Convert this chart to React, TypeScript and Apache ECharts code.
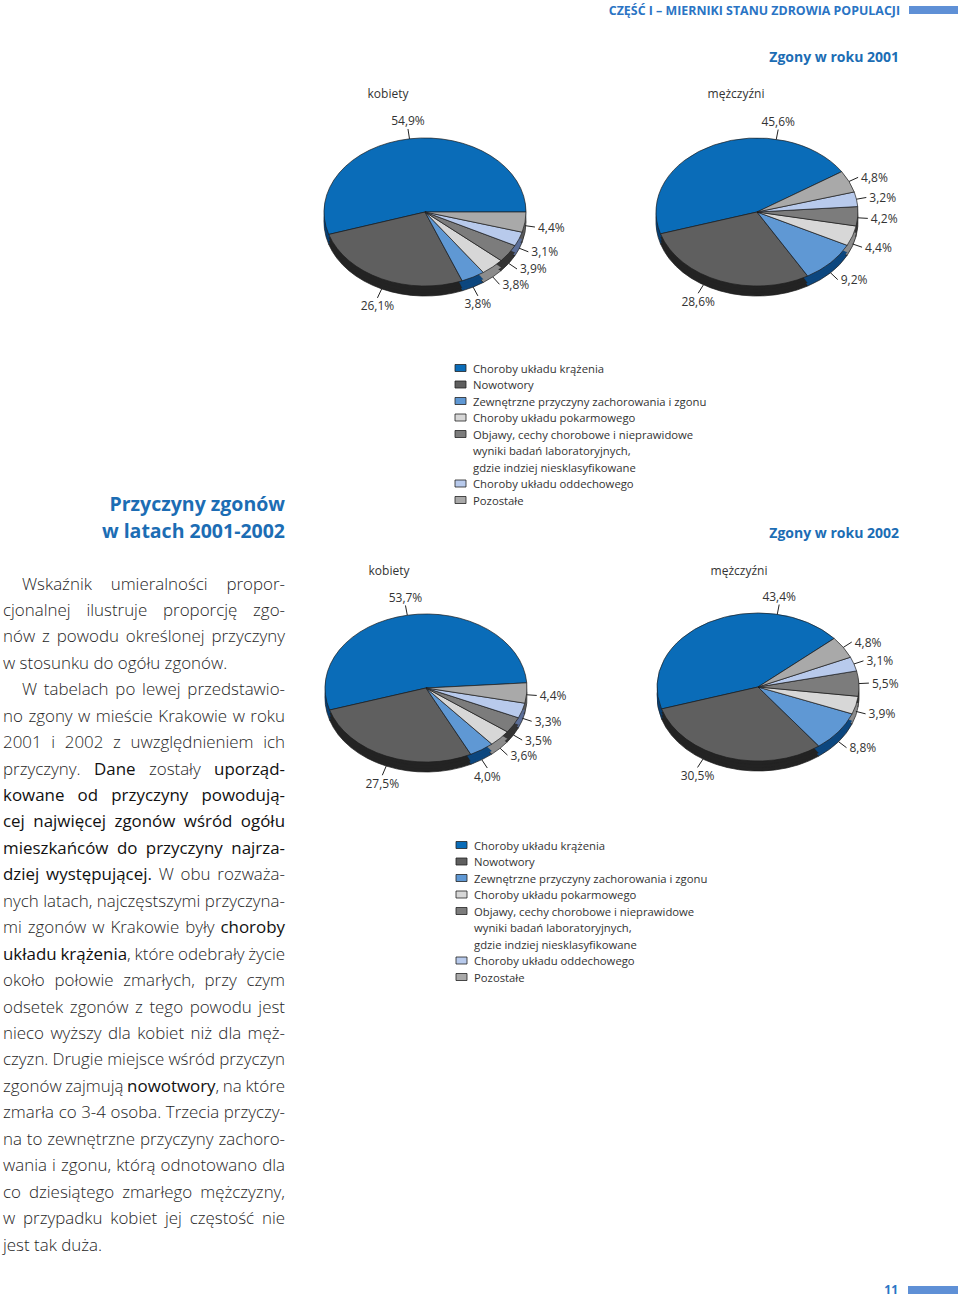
import React, { useEffect, useRef } from 'react';
import * as echarts from 'echarts';

// ---------- DATA ----------
const categories = [
  'Choroby układu krążenia',
  'Nowotwory',
  'Zewnętrzne przyczyny zachorowania i zgonu',
  'Choroby układu pokarmowego',
  'Objawy, cechy chorobowe i nieprawidowe\nwyniki badań laboratoryjnych,\ngdzie indziej niesklasyfikowane',
  'Choroby układu oddechowego',
  'Pozostałe',
];
const women2001 = [54.9, 26.1, 3.8, 3.8, 3.9, 3.1, 4.4];
const men2001 = [45.6, 28.6, 9.2, 4.4, 4.2, 3.2, 4.8];
const women2002 = [53.7, 27.5, 4.0, 3.6, 3.5, 3.3, 4.4];
const men2002 = [43.4, 30.5, 8.8, 3.9, 5.5, 3.1, 4.8];

const headerText = 'CZĘŚĆ I – MIERNIKI STANU ZDROWIA POPULACJI';
const title2001 = 'Zgony w roku 2001';
const title2002 = 'Zgony w roku 2002';
const womenLabel = 'kobiety';
const menLabel = 'mężczyźni';
const sideTitle = ['Przyczyny zgonów', 'w latach 2001-2002'];
const pageNumber = '11';

const bodyLines = [
  'Wskaźnik umieralności propor-',
  'cjonalnej ilustruje proporcję zgo-',
  'nów z powodu określonej przyczyny',
  'w stosunku do ogółu zgonów.',
  'W tabelach po lewej przedstawio-',
  'no zgony w mieście Krakowie w roku',
  '2001 i 2002 z uwzględnieniem ich',
  'przyczyny. *Dane* zostały *uporząd-*',
  '*kowane od przyczyny powodują-*',
  '*cej najwięcej zgonów wśród ogółu*',
  '*mieszkańców do przyczyny najrza-*',
  '*dziej występującej.* W obu rozważa-',
  'nych latach, najczęstszymi przyczyna-',
  'mi zgonów w Krakowie były *choroby*',
  '*układu krążenia*, które odebrały życie',
  'około połowie zmarłych, przy czym',
  'odsetek zgonów z tego powodu jest',
  'nieco wyższy dla kobiet niż dla męż-',
  'czyzn. Drugie miejsce wśród przyczyn',
  'zgonów zajmują *nowotwory*, na które',
  'zmarła co 3-4 osoba. Trzecia przyczy-',
  'na to zewnętrzne przyczyny zachoro-',
  'wania i zgonu, którą odnotowano dla',
  'co dziesiątego zmarłego mężczyzny,',
  'w przypadku kobiet jej częstość nie',
  'jest tak duża.',
];
const paragraphFirstLines = [0, 4];
const paragraphLastLines = [3, 25];

// ---------- STYLE ----------
const FONT = '"Open Sans", "Noto Sans", sans-serif';
const BLUE = '#1c6db4';
const colors = ['#0a6cb8', '#5f5f5f', '#5f98d4', '#d7d7d7', '#7c7c7c', '#b8caec', '#a9a9a9'];
const rimColors = ['#073f74', '#232323', '#0d477f', '#8c8c8c', '#343434', '#5c6f99', '#5a5a5a'];
const A = 101; // ellipse half width
const B = 74; // ellipse half height
const DEPTH = 10;

type PieCfg = { cx: number; cy: number; start: number; labelAngles?: Record<number, number> };

function pieSeries(values: number[], cfg: PieCfg) {
  const total = values.reduce((s, v) => s + v, 0);
  const starts: number[] = [];
  let acc = cfg.start;
  values.forEach((v) => {
    starts.push(acc);
    acc += (v / total) * 360;
  });
  const k = B / A;
  const rad = Math.PI / 180;
  return {
    type: 'custom',
    coordinateSystem: 'none',
    silent: true,
    data: values,
    renderItem: (params: any) => {
      const i = params.dataIndex;
      const v = values[i];
      const t1 = starts[i];
      const t2 = t1 + (v / total) * 360;
      const sa = -t2 * rad;
      const ea = -t1 * rad;
      const sector = (dy: number, fill: string, stroke: string | null, z2: number) => ({
        type: 'group',
        x: cfg.cx,
        y: cfg.cy + dy,
        scaleY: k,
        children: [
          {
            type: 'sector',
            z2,
            shape: { cx: 0, cy: 0, r: A, r0: 0, startAngle: sa, endAngle: ea, clockwise: true },
            style: {
              fill,
              stroke: stroke || fill,
              lineWidth: stroke ? 0.8 : 0.3,
              strokeNoScale: true,
            },
          },
        ],
      });
      const children: any[] = [
        sector(DEPTH, rimColors[i], '#1a1a1a', 1),
        sector(DEPTH * 0.66, rimColors[i], null, 2),
        sector(DEPTH * 0.33, rimColors[i], null, 2),
        sector(0, colors[i], '#1d1d1d', 5),
      ];
      // label
      const la = cfg.labelAngles && cfg.labelAngles[i] !== undefined ? cfg.labelAngles[i] : (t1 + t2) / 2;
      const c = Math.cos(la * rad);
      const s = Math.sin(la * rad);
      const rimAdd = DEPTH * Math.min(1, Math.max(0, -s * 2.5));
      const px = cfg.cx + A * c;
      const py = cfg.cy - B * s + rimAdd;
      const L = 10;
      const ex = px + c * L;
      const ey = py - s * L;
      let align = 'center';
      let valign = 'middle';
      let tx = ex;
      let ty = ey;
      if (Math.abs(c) > 0.6) {
        align = c > 0 ? 'left' : 'right';
        tx = ex + (c > 0 ? 3 : -3);
      } else {
        valign = s > 0 ? 'bottom' : 'top';
        ty = ey + (s > 0 ? -2 : 2);
      }
      children.push({
        type: 'line',
        z2: 10,
        shape: { x1: px, y1: py, x2: ex, y2: ey },
        style: { stroke: '#222', lineWidth: 1 },
      });
      children.push({
        type: 'text',
        z2: 10,
        x: tx,
        y: ty,
        style: {
          text: v.toFixed(1).replace('.', ',') + '%',
          fill: '#333',
          fontSize: 12,
          fontFamily: FONT,
          align,
          verticalAlign: valign,
          textAlign: align,
          textVerticalAlign: valign,
        },
      });
      return { type: 'group', children };
    },
  };
}

function txt(x: number, y: number, text: string, o: any = {}) {
  const align = o.align || 'left';
  const valign = o.valign || 'middle';
  return {
    type: 'text',
    x,
    y,
    silent: true,
    style: {
      text,
      fill: o.fill || '#333',
      fontSize: o.size || 12,
      fontFamily: FONT,
      fontWeight: o.weight || 'normal',
      align,
      verticalAlign: valign,
      textAlign: align,
      textVerticalAlign: valign,
    },
  };
}

function legend(x: number, y0: number) {
  const els: any[] = [];
  let row = 0;
  const step = 16.5;
  categories.forEach((cat, i) => {
    const lines = cat.split('\n');
    const y = y0 + row * step;
    els.push({
      type: 'rect',
      silent: true,
      shape: { x, y: y - 3.5, width: 11, height: 7 },
      style: { fill: colors[i], stroke: '#222', lineWidth: 0.8 },
    });
    lines.forEach((ln, j) => {
      els.push(txt(x + 18, y + j * step, ln, { size: 11.3, fill: '#333' }));
    });
    row += lines.length;
  });
  return els;
}

const NORMAL_W = 300;
const BOLD_W = 500;

function bodyText() {
  const canvas = document.createElement('canvas');
  const ctx = canvas.getContext('2d')!;
  const measure = (t: string, size: number, bold: boolean) => {
    ctx.font = `${bold ? BOLD_W : NORMAL_W} ${size}px ${FONT}`;
    return ctx.measureText(t).width;
  };
  const parse = (line: string) => {
    const words: { text: string; bold: boolean }[][] = [];
    let cur: { text: string; bold: boolean }[] = [];
    let bold = false;
    let buf = '';
    const flush = () => {
      if (buf) {
        cur.push({ text: buf, bold });
        buf = '';
      }
    };
    for (const ch of line) {
      if (ch === '*') {
        flush();
        bold = !bold;
      } else if (ch === ' ') {
        flush();
        if (cur.length) {
          words.push(cur);
          cur = [];
        }
      } else buf += ch;
    }
    flush();
    if (cur.length) words.push(cur);
    return words;
  };
  const right = 285;
  const startX = (i: number) => (paragraphFirstLines.includes(i) ? 22 : 3);
  let size = 17;
  let factor = 1;
  bodyLines.forEach((line, i) => {
    const words = parse(line);
    const w =
      words.reduce((s, wd) => s + wd.reduce((s2, r) => s2 + measure(r.text, size, r.bold), 0), 0) +
      measure(' ', size, false) * 0.8 * (words.length - 1);
    const avail = right - startX(i);
    if (w > avail) factor = Math.min(factor, avail / w);
  });
  size = size * factor;
  const els: any[] = [];
  bodyLines.forEach((line, i) => {
    const words = parse(line);
    const widths = words.map((wd) => wd.reduce((s, r) => s + measure(r.text, size, r.bold), 0));
    const sum = widths.reduce((s, w) => s + w, 0);
    const x0 = startX(i);
    const last = paragraphLastLines.includes(i);
    const gap = last || words.length < 2 ? measure(' ', size, false) : (right - x0 - sum) / (words.length - 1);
    const y = 583 + i * 26.44;
    let x = x0;
    words.forEach((wd, wi) => {
      let rx = x;
      wd.forEach((r) => {
        els.push(
          txt(rx, y, r.text, {
            size,
            weight: r.bold ? BOLD_W : NORMAL_W,
            fill: r.bold ? '#111111' : '#262626',
          })
        );
        rx += measure(r.text, size, r.bold);
      });
      x += widths[wi] + gap;
    });
  });
  return els;
}

export default function App() {
  const ref = useRef<HTMLDivElement>(null);
  useEffect(() => {
    if (!ref.current) return;
    const chart = echarts.init(ref.current, undefined, { renderer: 'svg' });
    const graphic: any[] = [
      txt(900, 10, headerText, { align: 'right', size: 12.4, weight: 'bold', fill: '#2a74c4' }),
      { type: 'rect', silent: true, shape: { x: 909, y: 6, width: 49, height: 8 }, style: { fill: '#5f90d6' } },
      txt(899, 56, title2001, { align: 'right', size: 14, weight: 'bold', fill: BLUE }),
      txt(388, 93, womenLabel, { align: 'center', size: 12 }),
      txt(736, 93, menLabel, { align: 'center', size: 12 }),
      ...legend(455, 368),
      txt(285, 503, sideTitle[0], { align: 'right', size: 19.5, weight: 'bold', fill: BLUE }),
      txt(285, 530, sideTitle[1], { align: 'right', size: 19.5, weight: 'bold', fill: BLUE }),
      txt(899, 532, title2002, { align: 'right', size: 14, weight: 'bold', fill: BLUE }),
      txt(389, 570, womenLabel, { align: 'center', size: 12 }),
      txt(739, 570, menLabel, { align: 'center', size: 12 }),
      ...legend(456, 845),
      ...bodyText(),
      txt(898, 1289, pageNumber, { align: 'right', size: 12, weight: 'bold', fill: '#2a74c4' }),
      { type: 'rect', silent: true, shape: { x: 908, y: 1286, width: 50, height: 8 }, style: { fill: '#5f90d6' } },
    ];
    chart.setOption({
      animation: false,
      backgroundColor: '#ffffff',
      graphic: { elements: graphic },
      series: [
        pieSeries(women2001, { cx: 425, cy: 212, start: 0 }),
        pieSeries(men2001, { cx: 757, cy: 212, start: 33, labelAngles: { 0: 79, 1: 238 } }),
        pieSeries(women2002, { cx: 426, cy: 688, start: 4 }),
        pieSeries(men2002, { cx: 758, cy: 687, start: 41, labelAngles: { 0: 79, 1: 237 } }),
      ],
    });
    return () => chart.dispose();
  }, []);
  return <div ref={ref} style={{ position: 'absolute', left: 0, top: 0, width: 960, height: 1296 }} />;
}
